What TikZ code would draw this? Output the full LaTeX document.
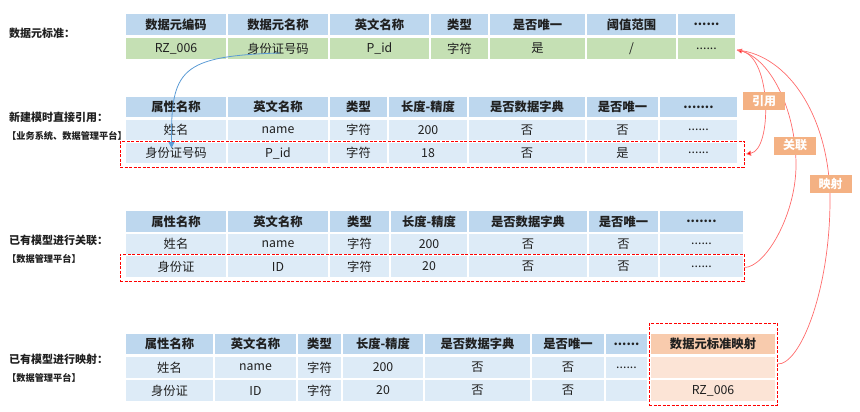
\documentclass[tikz,border=0pt]{standalone}
\usepackage{fontspec}
\setmainfont{Noto Sans CJK SC}
\usetikzlibrary{arrows.meta}
\definecolor{hdr}{HTML}{BDD7EE}
\definecolor{dat}{HTML}{DDEBF7}
\definecolor{grn}{HTML}{C5E0B4}
\definecolor{orh}{HTML}{F8CBAD}
\definecolor{ord}{HTML}{FCE4D6}
\definecolor{lbl}{HTML}{F4B183}
\definecolor{txt}{HTML}{202020}
\definecolor{redl}{HTML}{FF6B6B}
\definecolor{redd}{HTML}{FF0000}
\definecolor{blu}{HTML}{5B9BD5}
\newcommand\slsh{/}
\newcommand\dsix{......}
\newcommand\dseven{.......}
\newcommand\tabrow[5]{%
  \foreach \xa/\xb/\ct [count=\i] in {#5} {%
    \pgfmathsetmacro\cw{\xb-\xa-2}%
    \pgfmathsetmacro\cx{(\xa+\xb)/2}%
    \pgfmathsetmacro\ch{#3-#2}%
    \node[#4, minimum width=\cw pt, minimum height=\ch pt] (#1\i) at (\cx,{(#2+#3)/2}) {\ct};
  }%
}
\tikzset{
  cell/.style={inner sep=0pt, outer sep=0pt, text=txt, font=\fontsize{12.3}{13}\selectfont},
  hcell/.style={cell, fill=hdr, font=\fontsize{12.3}{13}\selectfont\bfseries},
  dcell/.style={cell, fill=dat},
  gcell/.style={cell, fill=grn},
  ohcell/.style={cell, fill=orh, font=\fontsize{12.3}{13}\selectfont\bfseries},
  odcell/.style={cell, fill=ord},
  dashbox/.style={draw=redd, dash pattern=on 3pt off 1.5pt, line width=1pt, inner sep=0pt, outer sep=0pt},
  side/.style={anchor=west, inner sep=0pt, text=txt, font=\fontsize{11}{12}\selectfont\bfseries},
  sidesm/.style={anchor=west, inner sep=0pt, text=txt, font=\fontsize{9.2}{10}\selectfont\bfseries},
  tag/.style={fill=lbl, text=white, inner sep=0pt, minimum width=42pt, minimum height=18pt, font=\fontsize{12}{12}\selectfont\bfseries},
  redcurve/.style={draw=redl, line width=0.7pt},
}
\begin{document}
\begin{tikzpicture}[x=1pt,y=-1pt]
\useasboundingbox (0,0) rectangle (860,412);
% left labels
\node[side] (L1) at (9,33) {数据元标准：};
\node[side] (L2) at (9,117) {新建模时直接引用：};
\node[sidesm] (L2b) at (7,136) {【业务系统、数据管理平台】};
\node[side] (L3) at (9,240) {已有模型进行关联：};
\node[sidesm] (L3b) at (7,259) {【数据管理平台】};
\node[side] (L4) at (9,359) {已有模型进行映射：};
\node[sidesm] (L4b) at (7,378) {【数据管理平台】};
% table 1
\tabrow{t1h}{14}{35}{hcell}{125/227/数据元编码,227/329/数据元名称,329/430/英文名称,430/489/类型,489/586/是否唯一,586/677/阈值范围,677/736/\dsix}
\tabrow{t1d}{38}{59}{gcell}{125/227/RZ\_006,227/329/身份证号码,329/430/P\_id,430/489/字符,489/586/是,586/677/\slsh,677/736/\dsix}
% table 2
\tabrow{t2h}{97}{117}{hcell}{125/227/属性名称,227/329/英文名称,329/388/类型,388/468/长度-精度,468/586/是否数据字典,586/659/是否唯一,659/738/\dseven}
\tabrow{t2a}{120}{140}{dcell}{125/227/姓名,227/329/name,329/388/字符,388/468/200,468/586/否,586/659/否,659/738/\dsix}
\tabrow{t2b}{143}{163}{dcell}{125/227/身份证号码,227/329/P\_id,329/388/字符,388/468/18,468/586/否,586/659/是,659/738/\dsix}
\node[dashbox, minimum width=624pt, minimum height=26pt] (r2) at (432,154) {};
% table 3
\tabrow{t3h}{211}{232}{hcell}{125/227/属性名称,227/329/英文名称,329/390/类型,390/468/长度-精度,468/588/是否数据字典,588/659/是否唯一,659/744/\dseven}
\tabrow{t3a}{234}{254}{dcell}{125/227/姓名,227/329/name,329/390/字符,390/468/200,468/588/否,588/659/否,659/744/\dsix}
\tabrow{t3b}{256}{277}{dcell}{125/227/身份证,227/329/ID,329/390/字符,390/468/20,468/588/否,588/659/否,659/744/\dsix}
\node[dashbox, minimum width=624pt, minimum height=27pt] (r3) at (432,267.5) {};
% table 4
\tabrow{t4h}{334}{354}{hcell}{125/214/属性名称,214/297/英文名称,297/342/类型,342/424/长度-精度,424/531/是否数据字典,531/605/是否唯一,605/648/\dsix}
\tabrow{t4a}{357}{378}{dcell}{125/214/姓名,214/297/name,297/342/字符,342/424/200,424/531/否,531/605/否,605/648/\dsix}
\tabrow{t4b}{380}{401}{dcell}{125/214/身份证,214/297/ID,297/342/字符,342/424/20,424/531/否,531/605/否,605/648/{}}
\tabrow{t4oh}{334}{354}{ohcell}{650/776/数据元标准映射}
\tabrow{t4oa}{357}{378}{odcell}{650/776/{}}
\tabrow{t4ob}{380}{401}{odcell}{650/776/RZ\_006}
\node[dashbox, minimum width=128pt, minimum height=82pt] (r4) at (713,364) {};
% blue arrow
\draw[blu, line width=0.8pt, -{Triangle[length=6pt,width=6pt]}]
  ([xshift=2pt,yshift=-4.5pt]t1d2.center) .. controls (180,56) and (171,70) .. ([xshift=-4.5pt,yshift=5pt]t2b1.center);
% red curves
\coordinate (src) at ([xshift=2pt,yshift=-1.5pt]t1d7.east);
\draw[redcurve, {Triangle[length=5pt,width=5pt,fill=redd]}-{Triangle[length=5pt,width=5pt,fill=redd]}]
  (src) .. controls (772,58) and (772,150) .. ([xshift=2pt]r2.east);
\draw[redcurve] (src) .. controls (770,55) and (796,110) .. (796,165)
  .. controls (796,215) and (765,268) .. (r3.east);
\draw[redcurve] (src) .. controls (790,55) and (830,120) .. (830,200)
  .. controls (830,290) and (800,366) .. (r4.east);
% tags
\node[tag] (g1) at (764,101) {引用};
\node[tag] (g2) at (795,145.5) {关联};
\node[tag] (g3) at (830.5,183.5) {映射};
\end{tikzpicture}
\end{document}
